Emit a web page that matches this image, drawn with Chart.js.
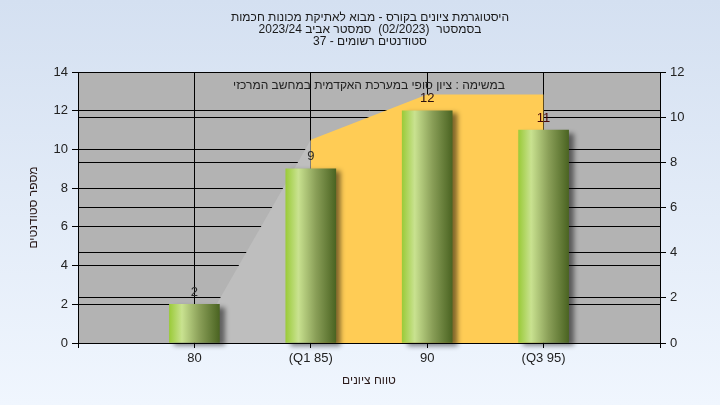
<!DOCTYPE html>
<html>
<head>
<meta charset="utf-8">
<script src="https://cdn.jsdelivr.net/npm/chart.js@4/dist/chart.umd.min.js"></script>
<style>
  html, body { margin: 0; padding: 0; background: #eef5fd; }
  #myChart { display: block; }
</style>
</head>
<body>
<canvas id="myChart" width="720" height="405"></canvas>
<script>
// chart data
var categories = ['', '80', '(Q1 85)', '90', '(Q3 95)', ''];
var studentCounts = [null, 2, 9, 12, 11, null];
var rangeLow = [null, 0, 9, null, null, null];
var rangeMid = [null, null, 9, 11, 11, null];
var labelColors = [null, '#2a2a2a', '#2a2a2a', '#2a1010', '#4a0808'];

var titleLines = [
    'היסטוגרמת ציונים בקורס - מבוא לאתיקת מכונות חכמות',
    'בסמסטר  (02/2023)  סמסטר אביב 2023/24',
    'סטודנטים רשומים - 37'
];
var noteText = 'במשימה : ציון סופי במערכת האקדמית במחשב המרכזי';

var FONT = '"Liberation Sans", Arial, sans-serif';

// background + plot fill
var backgroundPlugin = {
    id: 'bg',
    beforeDraw: function (chart) {
        var ctx = chart.ctx;
        var g = ctx.createLinearGradient(0, 0, 0, chart.height);
        g.addColorStop(0, '#d4e0f1');
        g.addColorStop(1, '#f0f6fe');
        ctx.save();
        ctx.fillStyle = g;
        ctx.fillRect(0, 0, chart.width, chart.height);
        var a = chart.chartArea;
        ctx.fillStyle = '#b3b3b3';
        ctx.fillRect(a.left, a.top, a.right - a.left, a.bottom - a.top);
        ctx.restore();
    },
    afterDraw: function (chart) {
        var ctx = chart.ctx;
        ctx.save();
        ctx.fillStyle = '#1a1a1a';
        ctx.textAlign = 'center';
        ctx.textBaseline = 'middle';
        ctx.direction = 'rtl';
        ctx.font = '12px ' + FONT;
        for (var i = 0; i < titleLines.length; i++) {
            ctx.fillText(titleLines[i], 370, 18 + i * 12);
        }
        ctx.restore();
    }
};

// shadow under bars
var shadowPlugin = {
    id: 'barShadow',
    beforeDatasetDraw: function (chart, args) {
        if (args.index !== 0) return;
        var ctx = chart.ctx;
        ctx.save();
        ctx.shadowColor = 'rgba(0,0,0,0.5)';
        ctx.shadowBlur = 5;
        ctx.shadowOffsetX = 5;
        ctx.shadowOffsetY = 3;
    },
    afterDatasetDraw: function (chart, args) {
        if (args.index !== 0) return;
        chart.ctx.restore();
    }
};

// value labels and note
var labelPlugin = {
    id: 'valueLabels',
    afterDatasetsDraw: function (chart) {
        var ctx = chart.ctx;
        var meta = chart.getDatasetMeta(0);
        ctx.save();
        ctx.font = '13px ' + FONT;
        ctx.textAlign = 'center';
        ctx.textBaseline = 'middle';
        meta.data.forEach(function (bar, i) {
            var v = studentCounts[i];
            if (v == null) return;
            ctx.fillStyle = labelColors[i] || '#222';
            ctx.fillText(String(v), bar.x, bar.y - 12);
        });
        ctx.font = '12px ' + FONT;
        ctx.fillStyle = '#222';
        ctx.direction = 'rtl';
        var a = chart.chartArea;
        ctx.fillText(noteText, (a.left + a.right) / 2, a.top + 14);
        ctx.restore();
    }
};

function barGradient(c) {
    var chart = c.chart;
    var xs = chart.scales && chart.scales.x;
    if (!xs || c.dataIndex == null) return '#9acd32';
    var cx = xs.getPixelForValue(c.dataIndex);
    if (!isFinite(cx)) return '#9acd32';
    var g = chart.ctx.createLinearGradient(cx - 25, 0, cx + 25, 0);
    g.addColorStop(0, '#9bcb3a');
    g.addColorStop(0.25, '#c9e290');
    g.addColorStop(0.6, '#8a9f58');
    g.addColorStop(1, '#4b6422');
    return g;
}

var ctx = document.getElementById('myChart').getContext('2d');
var myChart = new Chart(ctx, {
    type: 'bar',
    data: {
        labels: categories,
        datasets: [
            {
                type: 'bar',
                data: studentCounts,
                yAxisID: 'y',
                backgroundColor: barGradient,
                borderWidth: 0,
                barThickness: 50,
                order: 0,
                clip: false
            },
            {
                type: 'line',
                data: rangeMid,
                yAxisID: 'y1',
                fill: 'origin',
                backgroundColor: '#ffcc55',
                borderWidth: 0,
                pointRadius: 0,
                tension: 0,
                order: 1
            },
            {
                type: 'line',
                data: rangeLow,
                yAxisID: 'y1',
                fill: 'origin',
                backgroundColor: '#bebebe',
                borderWidth: 0,
                pointRadius: 0,
                tension: 0,
                order: 2
            }
        ]
    },
    options: {
        responsive: false,
        animation: false,
        layout: { padding: { top: 72, left: 0, right: 0, bottom: 0 } },
        plugins: {
            legend: { display: false },
            tooltip: { enabled: false }
        },
        scales: {
            x: {
                offset: false,
                afterFit: function (s) { s.height = 62; },
                grid: { offset: false, color: '#000', tickColor: '#000', tickLength: 5, lineWidth: 1 },
                border: { color: '#000' },
                ticks: { color: '#222', font: { family: FONT, size: 13 }, padding: 3, maxRotation: 0, autoSkip: false },
                title: {
                    display: true, text: 'טווח ציונים', color: '#2a1a1a',
                    font: { family: FONT, size: 12 }, padding: { top: 0, bottom: 17 }
                }
            },
            y: {
                position: 'left',
                min: 0, max: 14,
                afterFit: function (s) { s.width = 78; },
                grid: { color: '#000', tickColor: '#000', tickLength: 6 },
                border: { color: '#000' },
                ticks: { stepSize: 2, color: '#222', font: { family: FONT, size: 13 }, padding: 4 },
                title: {
                    display: true, text: 'מספר סטודנטים', color: '#2a1a1a',
                    font: { family: FONT, size: 12 }, padding: { top: 26, bottom: 0 }
                }
            },
            y1: {
                position: 'right',
                min: 0, max: 12,
                afterFit: function (s) { s.width = 60; },
                grid: { color: '#000', tickColor: '#000', tickLength: 6 },
                border: { color: '#000' },
                ticks: { stepSize: 2, color: '#222', font: { family: FONT, size: 13 }, padding: 4 }
            }
        }
    },
    plugins: [backgroundPlugin, shadowPlugin, labelPlugin]
});
</script>
</body>
</html>
